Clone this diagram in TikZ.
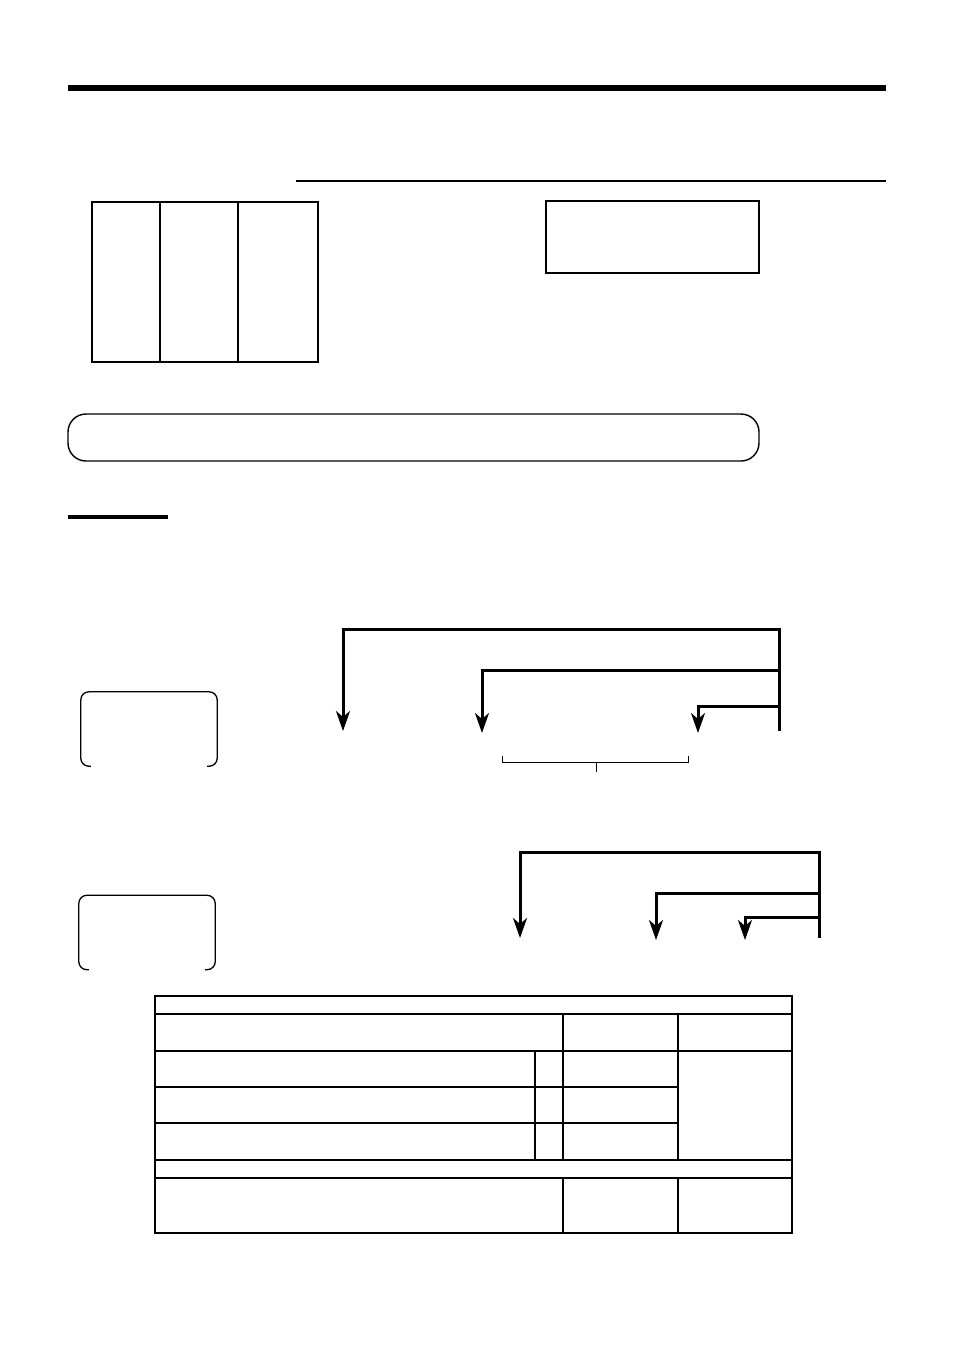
\documentclass[tikz,border=0pt]{standalone}
\usetikzlibrary{arrows.meta}

\begin{document}
\begin{tikzpicture}[x=1pt,y=-1pt]

\tikzset{panel/.style = {draw, line width=1.4pt, inner sep=0pt}}
\tikzset{keycap/.style = {inner sep=0pt, minimum width=136pt, minimum height=74pt}}
\tikzset{flow/.style = {-{Stealth[length=20pt,width=14pt,inset=6pt]}, line width=3pt}}
\tikzset{grid/.style = {line width=1.3pt}}
\tikzset{heavy/.style = {line width=2.6pt}}

\useasboundingbox (0,0) rectangle (954,1350);

% header rules
\draw[line width=6pt] (68,88) -- (886,88);
\draw[line width=1.2pt] (296,181) -- (886,181);

% three-column panel and display box
\node[panel, line width=2pt, minimum width=226pt, minimum height=160pt] (cols) at (205,282) {};
\draw[line width=1.4pt] (160,202) -- (160,362);
\draw[line width=1.4pt] (238,202) -- (238,362);
\node[panel, minimum width=213pt, minimum height=72pt] (disp) at (652.5,237) {};

% rounded bar
\node[panel, rounded corners=18pt, minimum width=691pt, minimum height=47pt] (bar) at (413.5,437.5) {};

% underline
\draw[line width=3.2pt] (68,517) -- (168,517);

% keys
\node[keycap] (key1) at (149,729) {};
\node[keycap] (key2) at (147,932.5) {};
\foreach \k in {key1,key2} {
  \draw[line width=1.3pt, rounded corners=8pt] ([xshift=10pt]\k.south west) -- (\k.south west)
    -- (\k.north west) -- (\k.north east) -- (\k.south east) -- ([xshift=-10pt]\k.south east);
}

% first group of arrows
\coordinate (top1) at (779,629);
\coordinate (bot1) at (779,731);
\coordinate (mid1) at (779,670);
\coordinate (low1) at (779,706);
\coordinate (a1) at (343,731);
\coordinate (b1) at (482,733);
\coordinate (c1) at (698,733);
\draw[flow] (bot1) -- (top1) -| (a1);
\draw[flow] (mid1) -| (b1);
\draw[flow] (low1) -| (c1);

% bracket
\draw[line width=1pt] (502,756) -- (502,762) -- (688,762) -- (688,756);
\draw[line width=1pt] (596,762) -- (596,772);

% second group of arrows
\coordinate (top2) at (819,852);
\coordinate (bot2) at (819,938);
\coordinate (mid2) at (819,893);
\coordinate (low2) at (819,917);
\coordinate (a2) at (520,938);
\coordinate (b2) at (656,940);
\coordinate (c2) at (745,940);
\draw[flow] (bot2) -- (top2) -| (a2);
\draw[flow] (mid2) -| (b2);
\draw[flow] (low2) -| (c2);

% table
\draw[grid] (155,996) rectangle (792,1233);
\draw[grid] (155,1014) -- (792,1014);
\draw[heavy] (155,1051) -- (792,1051);
\draw[grid] (155,1087) -- (678,1087);
\draw[grid] (155,1123) -- (678,1123);
\draw[heavy] (155,1160) -- (792,1160);
\draw[grid] (155,1178) -- (792,1178);
\draw[grid] (535,1051) -- (535,1160);
\foreach \x in {563,678} {
  \draw[grid] (\x,1014) -- (\x,1160);
  \draw[grid] (\x,1178) -- (\x,1233);
}

\end{tikzpicture}
\end{document}
